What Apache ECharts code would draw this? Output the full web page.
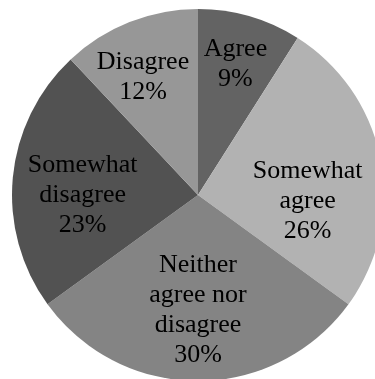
<!DOCTYPE html>
<html>
<head>
<meta charset="utf-8">
<script src="https://cdn.jsdelivr.net/npm/echarts@6/dist/echarts.min.js"></script>
<style>
  html, body { margin: 0; padding: 0; background: #fff; }
  #chart { width: 375px; height: 379px; }
</style>
</head>
<body>
<div id="chart"></div>
<script>
// Survey responses, in clockwise order from 12 o'clock
const categories = ['Agree', 'Somewhat agree', 'Neither agree nor disagree', 'Somewhat disagree', 'Disagree'];
const labelLines = ['Agree', 'Somewhat\nagree', 'Neither\nagree nor\ndisagree', 'Somewhat\ndisagree', 'Disagree'];
const percentages = [9, 26, 30, 23, 12];

const sliceColors = ['#636363', '#b2b2b2', '#848484', '#525252', '#979797'];

// Pie geometry
const CX = 198, CY = 195, R = 186;
// Label anchor for each slice: fraction of the radius and angle (degrees clockwise from top)
const labelRadius = [0.73, 0.59, 0.62, 0.62, 0.70];
const labelAngle = [16, 93, 180, 270, 335];

const chart = echarts.init(document.getElementById('chart'), null, { renderer: 'canvas' });

chart.setOption({
  backgroundColor: '#ffffff',
  animation: false,
  series: [{
    type: 'pie',
    center: [CX, CY],
    radius: [0, R],
    startAngle: 90,
    clockwise: true,
    avoidLabelOverlap: false,
    itemStyle: { borderWidth: 0 },
    emphasis: { disabled: true },
    label: {
      show: true,
      position: 'inside',
      fontFamily: '"Liberation Serif", "Times New Roman", serif',
      fontSize: 26,
      lineHeight: 30,
      color: '#000',
      align: 'center',
      verticalAlign: 'middle',
      formatter: p => labelLines[p.dataIndex] + '\n' + p.value + '%'
    },
    labelLine: { show: false },
    labelLayout: p => {
      const i = p.dataIndex;
      const a = labelAngle[i] * Math.PI / 180;
      return {
        x: CX + R * labelRadius[i] * Math.sin(a),
        y: CY - R * labelRadius[i] * Math.cos(a),
        align: 'center',
        verticalAlign: 'middle'
      };
    },
    data: categories.map((name, i) => ({
      name: name,
      value: percentages[i],
      itemStyle: { color: sliceColors[i] }
    }))
  }]
});
</script>
</body>
</html>
